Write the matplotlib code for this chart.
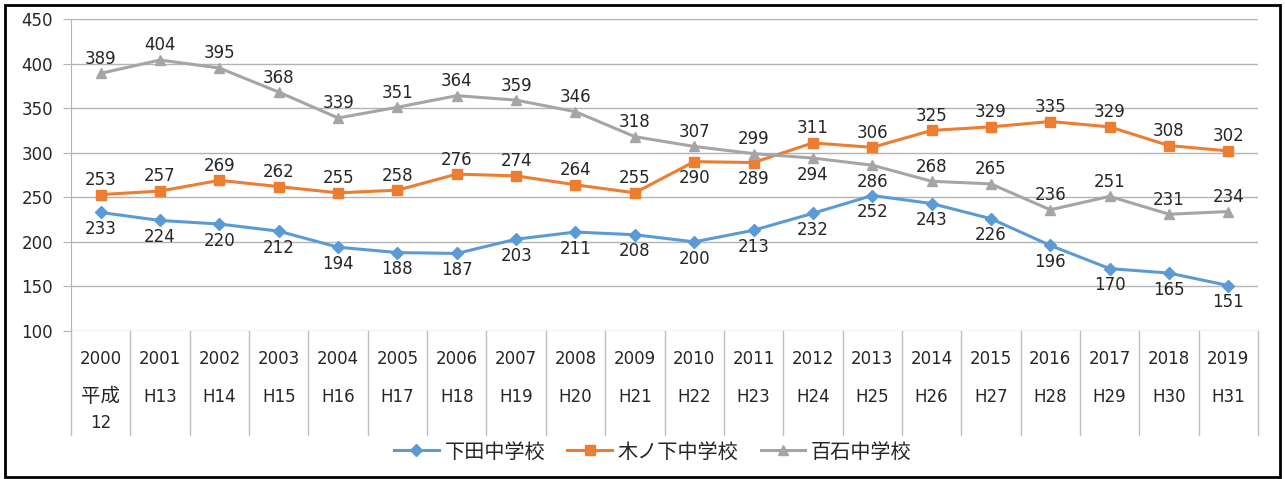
import matplotlib
matplotlib.use("Agg")
import matplotlib.pyplot as plt
from matplotlib.patches import Rectangle

plt.rcParams['font.family'] = ['DejaVu Sans', 'Noto Sans CJK JP']

years = ["2000", "2001", "2002", "2003", "2004", "2005", "2006", "2007", "2008", "2009",
         "2010", "2011", "2012", "2013", "2014", "2015", "2016", "2017", "2018", "2019"]
heisei = ["平成", "H13", "H14", "H15", "H16", "H17", "H18", "H19", "H20", "H21",
          "H22", "H23", "H24", "H25", "H26", "H27", "H28", "H29", "H30", "H31"]

shimoda = [233, 224, 220, 212, 194, 188, 187, 203, 211, 208,
           200, 213, 232, 252, 243, 226, 196, 170, 165, 151]
kinoshita = [253, 257, 269, 262, 255, 258, 276, 274, 264, 255,
             290, 289, 311, 306, 325, 329, 335, 329, 308, 302]
momoishi = [389, 404, 395, 368, 339, 351, 364, 359, 346, 318,
            307, 299, 294, 286, 268, 265, 236, 251, 231, 234]

names = ["下田中学校", "木ノ下中学校", "百石中学校"]

BLUE = "#5B9BD5"
ORANGE = "#ED7D31"
GRAY = "#A5A5A5"
GRID = "#B4B4B4"
TXT = "#262626"
CJK = ['Noto Sans CJK JP', 'DejaVu Sans']

W, H = 1285, 479
fig = plt.figure(figsize=(W / 100, H / 100), dpi=100)
ax = fig.add_axes([71 / W, (H - 331) / H, (1258 - 71) / W, 312 / H])

x = list(range(len(years)))
series = [
    (shimoda, BLUE, "D", 6, names[0]),
    (kinoshita, ORANGE, "s", 7, names[1]),
    (momoishi, GRAY, "^", 7.5, names[2]),
]
for vals, col, mk, ms, name in series:
    ax.plot(x, vals, color=col, lw=2.2, marker=mk, markersize=ms,
            markerfacecolor=col, markeredgecolor=col, label=name, zorder=3)

# data labels, above unless listed as below
UP, DOWN = 10.5, -12
orange_below = {10, 11}
gray_below = {12, 13}
for i, v in enumerate(shimoda):
    ax.annotate(str(v), (i, v), xytext=(0, DOWN), textcoords="offset points",
                ha="center", va="center", fontsize=12, color=TXT)
for i, v in enumerate(kinoshita):
    dy = DOWN if i in orange_below else UP
    ax.annotate(str(v), (i, v), xytext=(0, dy), textcoords="offset points",
                ha="center", va="center", fontsize=12, color=TXT)
for i, v in enumerate(momoishi):
    dy = DOWN if i in gray_below else UP
    ax.annotate(str(v), (i, v), xytext=(0, dy), textcoords="offset points",
                ha="center", va="center", fontsize=12, color=TXT)

ax.set_xlim(-0.5, len(years) - 0.5)
ax.set_ylim(100, 450)
ax.set_yticks(range(100, 451, 50))
ax.tick_params(axis="y", length=5.8, color=GRID, pad=7, labelsize=12, labelcolor=TXT)
ax.set_xticks([])
ax.grid(axis="y", color=GRID, lw=1)
ax.set_axisbelow(True)
for s in ["top", "right", "bottom"]:
    ax.spines[s].set_visible(False)
ax.spines["left"].set_color(GRID)

# category table below the axis
trans = ax.get_xaxis_transform()
for i in range(len(years) + 1):
    ax.plot([i - 0.5, i - 0.5], [0, -0.333], transform=trans, color="#BFBFBF",
            lw=1, clip_on=False)
for i in range(len(years)):
    ax.text(i, -0.09, years[i], transform=trans, ha="center", va="center",
            fontsize=12, color=TXT)
    if i == 0:
        ax.text(i, -0.21, heisei[i], transform=trans, ha="center", va="center",
                fontsize=14, family=CJK, color=TXT)
        ax.text(i, -0.295, "12", transform=trans, ha="center", va="center",
                fontsize=12, color=TXT)
    else:
        ax.text(i, -0.21, heisei[i], transform=trans, ha="center", va="center",
                fontsize=12, color=TXT)

leg = fig.legend(loc="center", bbox_to_anchor=(653 / W, 1 - 452 / H), ncol=3, frameon=False,
                 prop={"family": CJK, "size": 14.5}, handlelength=2.2, handletextpad=0.3,
                 columnspacing=1.1)
for t in leg.get_texts():
    t.set_color(TXT)

fig.patches.append(Rectangle((5 / W, 1 - 477 / H), 1275 / W, 472 / H, transform=fig.transFigure,
                             fill=False, edgecolor="#000000", lw=2, zorder=10))

fig.savefig("out.png", dpi=100)
